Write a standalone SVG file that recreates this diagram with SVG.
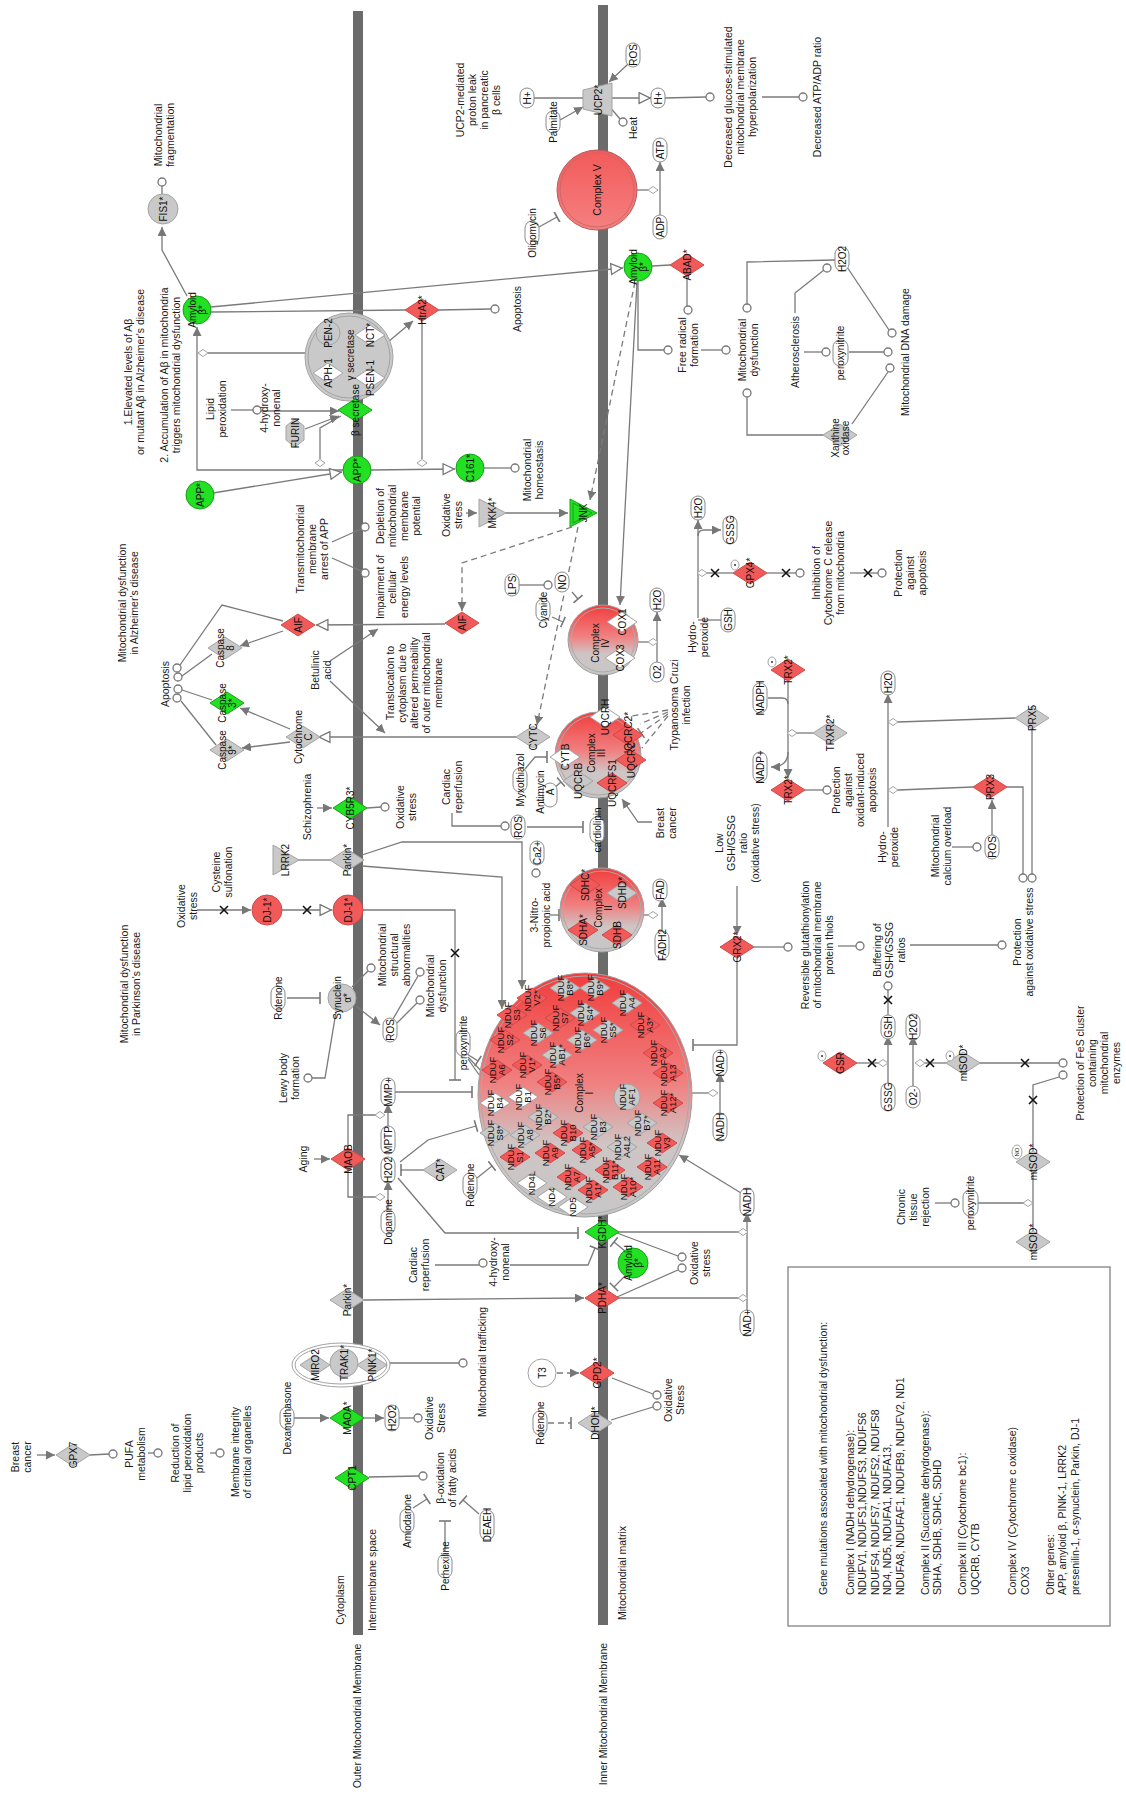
<svg xmlns="http://www.w3.org/2000/svg" width="1126" height="1798" viewBox="0 0 1126 1798">
<style>
.t{font-family:"Liberation Sans",Arial,sans-serif;font-size:10.5px;fill:#1a1a1a;text-anchor:middle}
.lg{font-family:"Liberation Sans",Arial,sans-serif;font-size:10.5px;fill:#1a1a1a;text-anchor:start}
.n{font-family:"Liberation Sans",Arial,sans-serif;font-size:10px;fill:#111;text-anchor:middle}
.s{font-family:"Liberation Sans",Arial,sans-serif;font-size:9.5px;fill:#111;text-anchor:middle}
.c{fill:none;stroke:#7a7a7a;stroke-width:1.3}
.d{stroke-dasharray:6 4}
.r{fill:#f25a5a;stroke:#d04848;stroke-width:1}
.g{fill:#c9c9c9;stroke:#a3a3a3;stroke-width:1}
.v{fill:#22e022;stroke:#1a9f1a;stroke-width:1}
.w{fill:#fff;stroke:#a3a3a3;stroke-width:1}
.o{fill:#fff;stroke:#777;stroke-width:1.3}
.ch{fill:#fff;stroke:#8a8a8a;stroke-width:1}
.x{stroke:#111;stroke-width:1.6;fill:none}
.mb{fill:#6b6b6b}
</style>
<defs>
<marker id="a" viewBox="0 0 10 10" refX="10" refY="5" markerWidth="9" markerHeight="9" markerUnits="userSpaceOnUse" orient="auto"><path d="M0,0L10,5L0,10Z" fill="#777"/></marker>
<marker id="oa" viewBox="0 0 12 12" refX="12" refY="6" markerWidth="13" markerHeight="13" markerUnits="userSpaceOnUse" orient="auto"><path d="M1,1L11,6L1,11Z" fill="#fff" stroke="#777" stroke-width="1.2"/></marker>
<marker id="ti" viewBox="-2 -6 4 12" refX="0" refY="0" markerWidth="4" markerHeight="12" markerUnits="userSpaceOnUse" orient="auto"><path d="M0,-6V6" stroke="#777" stroke-width="1.6"/></marker>
<path id="dm" d="M-17,0L0,-11L17,0L0,11Z"/>
<path id="dn" d="M-15,0L0,-10L15,0L0,10Z"/>
<path id="sd" d="M-5,0L0,-3.5L5,0L0,3.5Z"/>
<path id="xm" d="M-4,-4L4,4M4,-4L-4,4"/>
<path id="tr" d="M-13,-14L14,0L-13,14Z"/>
<linearGradient id="gc" x1="0" y1="0" x2="0" y2="1"><stop offset="0" stop-color="#f23c3c"/><stop offset="0.45" stop-color="#f08080"/><stop offset="0.7" stop-color="#cfc5c5"/><stop offset="1" stop-color="#c6c6c6"/></linearGradient>
<linearGradient id="g5" x1="0" y1="0" x2="0" y2="1"><stop offset="0" stop-color="#f25a5a"/><stop offset="1" stop-color="#f58080"/></linearGradient>
</defs>
<rect width="1126" height="1798" fill="#fff"/>
<g id="membranes">
<rect class="mb" x="353" y="11" width="10" height="1624"/>
<rect class="mb" x="598" y="5" width="10" height="1620"/>
</g>
<g id="region-labels">
<text class="t" transform="translate(357,1716) rotate(-90)" y="3.7">Outer Mitochondrial Membrane</text>
<text class="t" transform="translate(340,1600) rotate(-90)" y="3.7">Cytoplasm</text>
<text class="t" transform="translate(372,1580) rotate(-90)" y="3.7">Intermembrane space</text>
<text class="t" transform="translate(603,1714) rotate(-90)" y="3.7">Inner Mitochondrial Membrane</text>
<text class="t" transform="translate(622,1573) rotate(-90)" y="3.7">Mitochondrial matrix</text>
<text class="t" transform="translate(128,603) rotate(-90)"><tspan x="0" y="-2.3">Mitochondrial dysfunction</tspan><tspan x="0" y="9.7">in Alzheimer's disease</tspan></text>
<text class="t" transform="translate(130,984) rotate(-90)"><tspan x="0" y="-2.3">Mitochondrial dysfunction</tspan><tspan x="0" y="9.7">in Parkinson's disease</tspan></text>
<text class="t" transform="translate(134,372) rotate(-90)"><tspan x="0" y="-2.3">1.Elevated levels of Aβ</tspan><tspan x="0" y="9.7">or mutant Aβ in Alzheimer's disease</tspan></text>
<text class="t" transform="translate(170,375) rotate(-90)"><tspan x="0" y="-2.3">2. Accumulation of Aβ in mitochondria</tspan><tspan x="0" y="9.7">triggers mitochondrial dysfunction</tspan></text>
</g>
<g id="connectors" class="c">
<path d="M187,296L162,250L162,227" marker-end="url(#a)"/>
<path d="M162,194L162,186"/>
<path d="M211,307L623,268" marker-end="url(#oa)"/>
<path d="M211,312L405,310"/>
<path d="M439,310L491,309"/>
<path d="M388,342L413,321" marker-end="url(#a)"/>
<path d="M305,353L208,353"/>
<path d="M343,470L197,470L197,327" marker-end="url(#a)"/>
<path d="M341,416L320,428L320,459"/>
<path d="M231,410L253,410"/>
<path d="M261,411L339,411" marker-end="url(#a)"/>
<path d="M305,429L339,416" marker-end="url(#a)"/>
<path d="M213,493L342,472" marker-end="url(#oa)"/>
<path d="M371,470L455,469" marker-end="url(#oa)"/>
<path d="M422,321L422,459"/>
<path d="M484,468L511,468"/>
<path d="M332,542L361,529"/>
<path d="M332,558L361,571"/>
<path d="M445,624L316,625" marker-end="url(#oa)"/>
<path d="M283,631L240,646" marker-end="url(#a)"/>
<path d="M283,621L222,605L180,665"/>
<path d="M212,654L182,676"/>
<path d="M212,700L182,690"/>
<path d="M216,745L181,701"/>
<path d="M516,737L318,737" marker-end="url(#oa)"/>
<path d="M290,729L240,708" marker-end="url(#a)"/>
<path d="M290,742L242,748" marker-end="url(#a)"/>
<path d="M330,661L378,629" marker-end="url(#a)"/>
<path d="M330,681L385,733" marker-end="url(#a)"/>
<path class="d" d="M572,527L462,563L462,611" marker-end="url(#a)"/>
<path class="d" d="M578,527L537,725" marker-end="url(#a)"/>
<path class="d" d="M635,282L590,500" marker-end="url(#a)"/>
<path d="M637,282L620,605" marker-end="url(#a)"/>
<path d="M505,513L568,513" marker-end="url(#a)"/>
<path d="M466,513L477,513" marker-end="url(#a)"/>
<path d="M628,64L609,82" marker-end="url(#a)"/>
<path d="M533,98L583,98"/>
<path d="M560,120L583,107" marker-end="url(#a)"/>
<path d="M609,106L620,119"/>
<path d="M612,98L651,98" marker-end="url(#oa)"/>
<path d="M665,98L706,97"/>
<path d="M762,97L799,97"/>
<path d="M660,215L660,162" marker-end="url(#a)"/>
<path d="M637,190L648,190"/>
<path d="M539,227L557,217" marker-end="url(#ti)"/>
<path d="M652,266L670,265"/>
<path d="M687,276L687,306"/>
<path d="M638,281L638,350L664,350"/>
<path d="M701,350L722,350"/>
<path d="M835,260L747,262L747,304"/>
<path d="M823,435L747,435L747,397"/>
<path d="M795,313L795,293L824,270"/>
<path d="M804,352L822,352"/>
<path d="M849,352L884,352"/>
<path d="M847,267L889,330"/>
<path d="M852,424L888,372"/>
<path d="M519,585L544,585"/>
<path d="M572,592L578,599" marker-end="url(#ti)"/>
<path d="M552,617L563,622" marker-end="url(#ti)"/>
<path d="M638,642L648,642"/>
<path d="M657,664L657,612" marker-end="url(#a)"/>
<path d="M698,618L698,520" marker-end="url(#a)"/>
<path d="M698,536Q698,530 704,530L721,530" marker-end="url(#a)"/>
<path d="M721,620L698,620"/>
<path d="M707,573L733,573"/>
<path d="M767,573L796,573"/>
<path d="M850,573L878,573"/>
<path d="M788,681L788,778" marker-end="url(#a)"/>
<path d="M768,698L782,698Q788,698 788,704"/>
<path d="M788,752Q788,767 771,767" marker-end="url(#a)"/>
<path d="M813,733L797,733"/>
<path d="M805,790L823,790"/>
<path d="M888,827L888,694" marker-end="url(#a)"/>
<path d="M1015,718L898,722"/>
<path d="M973,787L898,790"/>
<path d="M992,836L992,800" marker-end="url(#a)"/>
<path d="M952,847L973,847"/>
<path d="M1007,787L1023,787L1023,874"/>
<path d="M1032,729L1032,874"/>
<path d="M737,886L737,935" marker-end="url(#a)"/>
<path d="M754,947L784,947"/>
<path d="M737,958L737,1045L693,1045" marker-end="url(#ti)"/>
<path d="M838,946L856,946"/>
<path d="M910,945L998,945"/>
<path d="M857,1063L878,1063"/>
<path d="M888,1089L888,1036" marker-end="url(#a)"/>
<path d="M888,1019L888,990"/>
<path d="M913,1089L913,1036" marker-end="url(#a)"/>
<path d="M946,1063L925,1063"/>
<path d="M980,1063L1059,1063"/>
<path d="M1033,1151L1033,1085L1059,1077"/>
<path d="M1033,1231L1033,1173"/>
<path d="M977,1203L1024,1203"/>
<path d="M935,1203L951,1203"/>
<path d="M197,910L251,910" marker-end="url(#a)"/>
<path d="M282,910L332,910" marker-end="url(#oa)"/>
<path d="M363,910L455,910L455,1080" marker-end="url(#ti)"/>
<path d="M298,860L330,860"/>
<path d="M362,855L402,842L522,842L522,989" marker-end="url(#a)"/>
<path d="M362,866L502,877L502,1009" marker-end="url(#a)"/>
<path d="M317,808L332,808" marker-end="url(#a)"/>
<path d="M367,808L381,807"/>
<path d="M452,813L452,826L501,826"/>
<path d="M527,827L583,827" marker-end="url(#ti)"/>
<path d="M525,769L535,757L547,757" marker-end="url(#ti)"/>
<path d="M553,789L561,782" marker-end="url(#ti)"/>
<path d="M652,822L638,822L622,799" marker-end="url(#a)"/>
<path class="d" d="M668,710L626,717"/>
<path class="d" d="M668,712L640,724"/>
<path class="d" d="M668,714L641,733" marker-end="url(#ti)"/>
<path class="d" d="M668,716L642,748"/>
<path d="M549,915L559,915" marker-end="url(#ti)"/>
<path d="M644,915L648,915"/>
<path d="M662,937L662,898" marker-end="url(#a)"/>
<path d="M287,998L320,998" marker-end="url(#ti)"/>
<path d="M312,1078L325,1078L336,1012"/>
<path d="M356,1006L380,1025" marker-end="url(#a)"/>
<path d="M352,987L368,971"/>
<path d="M393,1019L418,976"/>
<path d="M397,1023L417,1003"/>
<path d="M395,1092L472,1092" marker-end="url(#ti)"/>
<path d="M388,1132L388,1104" marker-end="url(#a)"/>
<path d="M388,1211L388,1181" marker-end="url(#a)"/>
<path d="M376,1115L348,1115L348,1197L376,1197"/>
<path d="M314,1159L330,1159" marker-end="url(#a)"/>
<path d="M400,1162L428,1140L476,1126" marker-end="url(#ti)"/>
<path d="M398,1178L445,1233L578,1233" marker-end="url(#ti)"/>
<path d="M425,1170L401,1170" marker-end="url(#ti)"/>
<path d="M477,1178L492,1166" marker-end="url(#ti)"/>
<path d="M467,1054L478,1061" marker-end="url(#ti)"/>
<path d="M468,1057L483,1073"/>
<path d="M468,1059L487,1086"/>
<path d="M435,1265L479,1265"/>
<path d="M510,1265L588,1265L595,1248" marker-end="url(#ti)"/>
<path d="M625,1251L614,1242" marker-end="url(#ti)"/>
<path d="M625,1276L614,1287" marker-end="url(#ti)"/>
<path d="M617,1233L678,1256"/>
<path d="M617,1297L678,1270"/>
<path d="M619,1232L738,1232"/>
<path d="M619,1298L738,1298"/>
<path d="M747,1316L747,1213" marker-end="url(#a)"/>
<path d="M741,1193L679,1155" marker-end="url(#a)"/>
<path d="M691,1093L708,1093"/>
<path d="M720,1117L720,1073" marker-end="url(#a)"/>
<path d="M364,1300L584,1298" marker-end="url(#a)"/>
<path d="M390,1363L459,1363"/>
<path d="M294,1418L329,1418" marker-end="url(#a)"/>
<path d="M364,1418L384,1418" marker-end="url(#a)"/>
<path d="M399,1418L414,1418"/>
<path d="M369,1477L419,1476"/>
<path d="M413,1508L427,1499" marker-end="url(#ti)"/>
<path d="M445,1551L445,1521" marker-end="url(#ti)"/>
<path d="M479,1514L463,1500" marker-end="url(#ti)"/>
<path d="M37,1455L55,1455" marker-end="url(#a)"/>
<path d="M90,1455L109,1454"/>
<path d="M148,1453L154,1453"/>
<path d="M210,1453L216,1453"/>
<path class="d" d="M557,1373L579,1373" marker-end="url(#a)"/>
<path d="M612,1378L653,1394"/>
<path d="M611,1420L653,1407"/>
<path class="d" d="M548,1423L571,1423" marker-end="url(#ti)"/>
<g class="o">
<circle cx="162" cy="182" r="4"/><circle cx="495" cy="309" r="4"/><circle cx="515" cy="468" r="4"/><circle cx="365" cy="527" r="4"/><circle cx="365" cy="573" r="4"/>
<circle cx="177" cy="668" r="4"/><circle cx="178" cy="677" r="4"/><circle cx="178" cy="689" r="4"/><circle cx="177" cy="698" r="4"/><circle cx="623" cy="122" r="4"/>
<circle cx="710" cy="97" r="4"/><circle cx="803" cy="97" r="4"/><circle cx="688" cy="310" r="4"/><circle cx="668" cy="350" r="4"/><circle cx="726" cy="350" r="4"/>
<circle cx="747" cy="308" r="4"/><circle cx="747" cy="393" r="4"/><circle cx="827" cy="268" r="4"/><circle cx="826" cy="352" r="4"/><circle cx="888" cy="352" r="4"/>
<circle cx="892" cy="333" r="4"/><circle cx="890" cy="368" r="4"/><circle cx="548" cy="585" r="4"/><circle cx="800" cy="573" r="4"/><circle cx="882" cy="573" r="4"/>
<circle cx="827" cy="790" r="4"/><circle cx="977" cy="847" r="4"/><circle cx="1023" cy="878" r="4"/><circle cx="1032" cy="878" r="4"/><circle cx="788" cy="947" r="4"/>
<circle cx="860" cy="946" r="4"/><circle cx="1002" cy="945" r="4"/><circle cx="888" cy="986" r="4"/><circle cx="1063" cy="1063" r="4"/><circle cx="1063" cy="1075" r="4"/>
<circle cx="955" cy="1203" r="4"/><circle cx="385" cy="807" r="4"/><circle cx="505" cy="826" r="4"/><circle cx="308" cy="1078" r="4"/><circle cx="371" cy="968" r="4"/>
<circle cx="420" cy="972" r="4"/><circle cx="420" cy="1000" r="4"/><circle cx="483" cy="1263" r="4"/><circle cx="682" cy="1257" r="4"/><circle cx="682" cy="1268" r="4"/>
<circle cx="463" cy="1363" r="4"/><circle cx="418" cy="1418" r="4"/><circle cx="423" cy="1476" r="4"/><circle cx="113" cy="1454" r="4"/><circle cx="158" cy="1453" r="4"/>
<circle cx="220" cy="1453" r="4"/><circle cx="657" cy="1395" r="4"/><circle cx="657" cy="1406" r="4"/><circle cx="257" cy="410" r="4"/><circle cx="536" cy="873" r="4"/>
</g>
<g class="w">
<use href="#sd" x="203" y="353"/><use href="#sd" x="320" y="463"/><use href="#sd" x="422" y="463"/><use href="#sd" x="653" y="190"/><use href="#sd" x="653" y="642"/>
<use href="#sd" x="702" y="573"/><use href="#sd" x="792" y="733"/><use href="#sd" x="893" y="722"/><use href="#sd" x="893" y="790"/><use href="#sd" x="883" y="1063"/>
<use href="#sd" x="920" y="1063"/><use href="#sd" x="1028" y="1203"/><use href="#sd" x="380" y="1115"/><use href="#sd" x="380" y="1197"/><use href="#sd" x="713" y="1093"/>
<use href="#sd" x="743" y="1232"/><use href="#sd" x="743" y="1298"/><use href="#sd" x="653" y="915"/>
</g>
<g class="x">
<use href="#xm" x="224" y="910"/><use href="#xm" x="307" y="910"/><use href="#xm" x="455" y="953"/><use href="#xm" x="786" y="573"/><use href="#xm" x="868" y="573"/>
<use href="#xm" x="715" y="573"/><use href="#xm" x="872" y="1063"/><use href="#xm" x="888" y="1000"/><use href="#xm" x="930" y="1063"/><use href="#xm" x="1025" y="1063"/><use href="#xm" x="1033" y="1100"/>
</g>
</g>
<g id="labels">
<text class="t" transform="translate(164,135) rotate(-90)"><tspan x="0" y="-2.3">Mitochondrial</tspan><tspan x="0" y="9.7">fragmentation</tspan></text>
<text class="t" transform="translate(216,409) rotate(-90)"><tspan x="0" y="-2.3">Lipid</tspan><tspan x="0" y="9.7">peroxidation</tspan></text>
<text class="t" transform="translate(270,408) rotate(-90)"><tspan x="0" y="-2.3">4-hydroxy-</tspan><tspan x="0" y="9.7">nonenal</tspan></text>
<text class="t" transform="translate(517,309) rotate(-90)" y="3.7">Apoptosis</text>
<text class="t" transform="translate(478,100) rotate(-90)"><tspan x="0" y="-14.3">UCP2-mediated</tspan><tspan x="0" y="-2.3">proton leak</tspan><tspan x="0" y="9.7">in pancreatic</tspan><tspan x="0" y="21.7">β cells</tspan></text>
<text class="t" transform="translate(633,128) rotate(-90)" y="3.7">Heat</text>
<text class="t" transform="translate(740,97) rotate(-90)"><tspan x="0" y="-8.3">Decreased glucose-stimulated</tspan><tspan x="0" y="3.7">mitochondrial membrane</tspan><tspan x="0" y="15.7">hyperpolarization</tspan></text>
<text class="t" transform="translate(817,97) rotate(-90)" y="3.7">Decreased ATP/ADP ratio</text>
<text class="t" transform="translate(688,345) rotate(-90)"><tspan x="0" y="-2.3">Free radical</tspan><tspan x="0" y="9.7">formation</tspan></text>
<text class="t" transform="translate(748,350) rotate(-90)"><tspan x="0" y="-2.3">Mitochondrial</tspan><tspan x="0" y="9.7">dysfunction</tspan></text>
<text class="t" transform="translate(795,352) rotate(-90)" y="3.7">Atherosclerosis</text>
<text class="t" transform="translate(905,352) rotate(-90)" y="3.7">Mitochondrial DNA damage</text>
<text class="t" transform="translate(533,470) rotate(-90)"><tspan x="0" y="-2.3">Mitochondrial</tspan><tspan x="0" y="9.7">homeostasis</tspan></text>
<text class="t" transform="translate(312,549) rotate(-90)"><tspan x="0" y="-8.3">Transmitochondrial</tspan><tspan x="0" y="3.7">membrane</tspan><tspan x="0" y="15.7">arrest of APP</tspan></text>
<text class="t" transform="translate(398,516) rotate(-90)"><tspan x="0" y="-14.3">Depletion of</tspan><tspan x="0" y="-2.3">mitochondrial</tspan><tspan x="0" y="9.7">membrane</tspan><tspan x="0" y="21.7">potential</tspan></text>
<text class="t" transform="translate(392,587) rotate(-90)"><tspan x="0" y="-8.3">Impairment of</tspan><tspan x="0" y="3.7">cellular</tspan><tspan x="0" y="15.7">energy levels</tspan></text>
<text class="t" transform="translate(414,683) rotate(-90)"><tspan x="0" y="-20.3">Translocation to</tspan><tspan x="0" y="-8.3">cytoplasm due to</tspan><tspan x="0" y="3.7">altered permeability</tspan><tspan x="0" y="15.7">of outer mitochondrial</tspan><tspan x="0" y="27.7">membrane</tspan></text>
<text class="t" transform="translate(165,684) rotate(-90)" y="3.7">Apoptosis</text>
<text class="t" transform="translate(321,670) rotate(-90)"><tspan x="0" y="-2.3">Betulinic</tspan><tspan x="0" y="9.7">acid</tspan></text>
<text class="t" transform="translate(452,515) rotate(-90)"><tspan x="0" y="-2.3">Oxidative</tspan><tspan x="0" y="9.7">stress</tspan></text>
<text class="t" transform="translate(307,807) rotate(-90)" y="3.7">Schizophrenia</text>
<text class="t" transform="translate(406,807) rotate(-90)"><tspan x="0" y="-2.3">Oxidative</tspan><tspan x="0" y="9.7">stress</tspan></text>
<text class="t" transform="translate(452,787) rotate(-90)"><tspan x="0" y="-2.3">Cardiac</tspan><tspan x="0" y="9.7">reperfusion</tspan></text>
<text class="t" transform="translate(666,823) rotate(-90)"><tspan x="0" y="-2.3">Breast</tspan><tspan x="0" y="9.7">cancer</tspan></text>
<text class="t" transform="translate(680,705) rotate(-90)"><tspan x="0" y="-2.3">Trypanosoma Cruzi</tspan><tspan x="0" y="9.7">infection</tspan></text>
<text class="t" transform="translate(698,637) rotate(-90)"><tspan x="0" y="-2.3">Hydro-</tspan><tspan x="0" y="9.7">peroxide</tspan></text>
<text class="t" transform="translate(828,573) rotate(-90)"><tspan x="0" y="-8.3">Inhibition of</tspan><tspan x="0" y="3.7">Cytochrome C release</tspan><tspan x="0" y="15.7">from mitochondria</tspan></text>
<text class="t" transform="translate(910,573) rotate(-90)"><tspan x="0" y="-8.3">Protection</tspan><tspan x="0" y="3.7">against</tspan><tspan x="0" y="15.7">apoptosis</tspan></text>
<text class="t" transform="translate(854,790) rotate(-90)"><tspan x="0" y="-14.3">Protection</tspan><tspan x="0" y="-2.3">against</tspan><tspan x="0" y="9.7">oxidant-induced</tspan><tspan x="0" y="21.7">apoptosis</tspan></text>
<text class="t" transform="translate(888,847) rotate(-90)"><tspan x="0" y="-2.3">Hydro-</tspan><tspan x="0" y="9.7">peroxide</tspan></text>
<text class="t" transform="translate(941,846) rotate(-90)"><tspan x="0" y="-2.3">Mitochondrial</tspan><tspan x="0" y="9.7">calcium overload</tspan></text>
<text class="t" transform="translate(737,843) rotate(-90)"><tspan x="0" y="-14.3">Low</tspan><tspan x="0" y="-2.3">GSH/GSSG</tspan><tspan x="0" y="9.7">ratio</tspan><tspan x="0" y="21.7">(oxidative stress)</tspan></text>
<text class="t" transform="translate(817,945) rotate(-90)"><tspan x="0" y="-8.3">Reversible glutathionylation</tspan><tspan x="0" y="3.7">of mitochondrial membrane</tspan><tspan x="0" y="15.7">protein thiols</tspan></text>
<text class="t" transform="translate(889,950) rotate(-90)"><tspan x="0" y="-8.3">Buffering of</tspan><tspan x="0" y="3.7">GSH/GSSG</tspan><tspan x="0" y="15.7">ratios</tspan></text>
<text class="t" transform="translate(1023,942) rotate(-90)"><tspan x="0" y="-2.3">Protection</tspan><tspan x="0" y="9.7">against oxidative stress</tspan></text>
<text class="t" transform="translate(1098,1063) rotate(-90)"><tspan x="0" y="-14.3">Protection of FeS cluster</tspan><tspan x="0" y="-2.3">containing</tspan><tspan x="0" y="9.7">mitochondrial</tspan><tspan x="0" y="21.7">enzymes</tspan></text>
<text class="t" transform="translate(913,1207) rotate(-90)"><tspan x="0" y="-8.3">Chronic</tspan><tspan x="0" y="3.7">tissue</tspan><tspan x="0" y="15.7">rejection</tspan></text>
<text class="t" transform="translate(187,906) rotate(-90)"><tspan x="0" y="-2.3">Oxidative</tspan><tspan x="0" y="9.7">stress</tspan></text>
<text class="t" transform="translate(222,872) rotate(-90)"><tspan x="0" y="-2.3">Cysteine</tspan><tspan x="0" y="9.7">sulfonation</tspan></text>
<text class="t" transform="translate(394,955) rotate(-90)"><tspan x="0" y="-8.3">Mitochondrial</tspan><tspan x="0" y="3.7">structural</tspan><tspan x="0" y="15.7">abnormalities</tspan></text>
<text class="t" transform="translate(436,986) rotate(-90)"><tspan x="0" y="-2.3">Mitochondrial</tspan><tspan x="0" y="9.7">dysfunction</tspan></text>
<text class="t" transform="translate(289,1078) rotate(-90)"><tspan x="0" y="-2.3">Lewy body</tspan><tspan x="0" y="9.7">formation</tspan></text>
<text class="t" transform="translate(303,1159) rotate(-90)" y="3.7">Aging</text>
<text class="t" transform="translate(540,915) rotate(-90)"><tspan x="0" y="-2.3">3-Nitro-</tspan><tspan x="0" y="9.7">propionic acid</tspan></text>
<text class="t" transform="translate(419,1265) rotate(-90)"><tspan x="0" y="-2.3">Cardiac</tspan><tspan x="0" y="9.7">reperfusion</tspan></text>
<text class="t" transform="translate(499,1262) rotate(-90)"><tspan x="0" y="-2.3">4-hydroxy-</tspan><tspan x="0" y="9.7">nonenal</tspan></text>
<text class="t" transform="translate(700,1263) rotate(-90)"><tspan x="0" y="-2.3">Oxidative</tspan><tspan x="0" y="9.7">stress</tspan></text>
<text class="t" transform="translate(482,1362) rotate(-90)" y="3.7">Mitochondrial trafficking</text>
<text class="t" transform="translate(435,1418) rotate(-90)"><tspan x="0" y="-2.3">Oxidative</tspan><tspan x="0" y="9.7">Stress</tspan></text>
<text class="t" transform="translate(446,1478) rotate(-90)"><tspan x="0" y="-2.3">β-oxidation</tspan><tspan x="0" y="9.7">of fatty acids</tspan></text>
<text class="t" transform="translate(674,1400) rotate(-90)"><tspan x="0" y="-2.3">Oxidative</tspan><tspan x="0" y="9.7">Stress</tspan></text>
<text class="t" transform="translate(21,1457) rotate(-90)"><tspan x="0" y="-2.3">Breast</tspan><tspan x="0" y="9.7">cancer</tspan></text>
<text class="t" transform="translate(135,1454) rotate(-90)"><tspan x="0" y="-2.3">PUFA</tspan><tspan x="0" y="9.7">metabolism</tspan></text>
<text class="t" transform="translate(187,1453) rotate(-90)"><tspan x="0" y="-8.3">Reduction of</tspan><tspan x="0" y="3.7">lipid peroxidation</tspan><tspan x="0" y="15.7">products</tspan></text>
<text class="t" transform="translate(241,1452) rotate(-90)"><tspan x="0" y="-2.3">Membrane integrity</tspan><tspan x="0" y="9.7">of critical organelles</tspan></text>
</g>
<g id="nodes">
<g id="FIS1"><circle class="g" cx="163" cy="209" r="15"/><text class="n" transform="translate(163,209) rotate(-90)" y="3.5">FIS1*</text></g>
<g id="AmyB-out"><circle class="v" cx="197" cy="310" r="14"/><text class="n" transform="translate(197,310) rotate(-90)"><tspan x="0" y="-1.5">Amyloid</tspan><tspan x="0" y="8.5">β*</tspan></text></g>
<g id="gamma-secretase"><circle class="g" cx="349" cy="357" r="44"/><circle cx="349" cy="357" r="41" fill="none" stroke="#a3a3a3"/>
<circle class="g" cx="328" cy="333" r="12"/><text class="n" transform="translate(328,333) rotate(-90)" y="3.5">PEN-2</text>
<use href="#dn" x="328" y="373" class="w"/><text class="n" transform="translate(328,373) rotate(-90)" y="3.5">APH-1</text>
<use href="#dn" x="370" y="335" class="w"/><text class="n" transform="translate(370,335) rotate(-90)" y="3.5">NCT*</text>
<use href="#dn" x="370" y="378" class="w"/><text class="n" transform="translate(370,378) rotate(-90)" y="3.5">PSEN-1</text>
<text class="n" transform="translate(350,355) rotate(-90)" y="3.5">γ secretase</text></g>
<g id="HtrA2"><use href="#dm" x="422" y="310" class="r"/><text class="n" transform="translate(422,310) rotate(-90)" y="3.5">HtrA2*</text></g>
<g id="b-secretase"><use href="#dm" x="355" y="410" class="v"/><text class="n" transform="translate(355,410) rotate(-90)" y="3.5">β secretase</text></g>
<g id="FURIN"><path class="g" transform="translate(295,433)" d="M0,-14L9,-7L9,7L0,14L-9,7L-9,-7Z"/><text class="n" transform="translate(295,433) rotate(-90)" y="3.5">FURIN</text></g>
<g id="APP-mem"><circle class="v" cx="357" cy="470" r="14"/><text class="n" transform="translate(357,470) rotate(-90)" y="3.5">APP*</text></g>
<g id="APP-out"><circle class="v" cx="200" cy="495" r="14"/><text class="n" transform="translate(200,495) rotate(-90)" y="3.5">APP*</text></g>
<g id="C161"><circle class="v" cx="470" cy="468" r="14"/><text class="n" transform="translate(470,468) rotate(-90)" y="3.5">C161*</text></g>
<g id="UCP2"><polygon class="g" points="583,90 612,83 612,116 583,109"/><text class="n" transform="translate(598,100) rotate(-90)" y="3.5">UCP2*</text></g>
<g id="ComplexV"><circle cx="597" cy="190" r="40" fill="url(#g5)" stroke="#b85c5c"/><circle cx="597" cy="190" r="37" fill="none" stroke="#c86a6a"/><text class="n" transform="translate(597,190) rotate(-90)" y="3.5" style="font-size:10.5px">Complex V</text></g>
<g id="AmyB-in"><circle class="v" cx="638" cy="267" r="14"/><text class="n" transform="translate(638,267) rotate(-90)"><tspan x="0" y="-1.5">Amyloid</tspan><tspan x="0" y="8.5">β*</tspan></text></g>
<g id="ABAD"><use href="#dm" x="687" y="265" class="r"/><text class="n" transform="translate(687,265) rotate(-90)" y="3.5">ABAD*</text></g>
<g id="XO"><use href="#dm" x="840" y="435" class="g"/><text class="n" transform="translate(840,438) rotate(-90)"><tspan x="0" y="-1.5">Xanthine</tspan><tspan x="0" y="8.5">oxidase</tspan></text></g>
<g id="MKK4"><use href="#tr" x="492" y="513" class="g"/><text class="n" transform="translate(492,513) rotate(-90)" y="3.5">MKK4*</text></g>
<g id="JNK"><use href="#tr" x="583" y="513" class="v"/><path transform="translate(583,513)" d="M-10,-10L9,0L-10,10Z" fill="none" stroke="#1a9f1a"/><text class="n" transform="translate(583,513) rotate(-90)" y="3.5">JNK</text></g>
<g id="AIF-out"><use href="#dm" x="298" y="625" class="r"/><text class="n" transform="translate(298,625) rotate(-90)" y="3.5">AIF</text></g>
<g id="AIF-in"><use href="#dm" x="462" y="623" class="r"/><text class="n" transform="translate(462,623) rotate(-90)" y="3.5">AIF</text></g>
<g id="Casp8"><use href="#dm" x="225" y="648" class="g"/><text class="n" transform="translate(225,648) rotate(-90)"><tspan x="0" y="-1.5">Caspase</tspan><tspan x="0" y="8.5">8</tspan></text></g>
<g id="Casp3"><use href="#dm" x="227" y="703" class="v"/><text class="n" transform="translate(227,703) rotate(-90)"><tspan x="0" y="-1.5">Caspase</tspan><tspan x="0" y="8.5">3*</tspan></text></g>
<g id="Casp9"><use href="#dm" x="227" y="750" class="g"/><text class="n" transform="translate(227,750) rotate(-90)"><tspan x="0" y="-1.5">Caspase</tspan><tspan x="0" y="8.5">9*</tspan></text></g>
<g id="CytC-out"><use href="#dm" x="303" y="737" class="g"/><text class="n" transform="translate(303,737) rotate(-90)"><tspan x="0" y="-1.5">Cytochrome</tspan><tspan x="0" y="8.5">C</tspan></text></g>
<g id="CYTC-in"><use href="#dm" x="533" y="737" class="g"/><text class="n" transform="translate(533,737) rotate(-90)" y="3.5">CYTC</text></g>
<g id="CYB5R3"><use href="#dm" x="350" y="808" class="v"/><text class="n" transform="translate(350,808) rotate(-90)" y="3.5">CYB5R3*</text></g>
<g id="LRRK2"><path class="g" transform="translate(285,860)" d="M-12,-15L14,0L-12,15Z"/><text class="n" transform="translate(285,860) rotate(-90)" y="3.5">LRRK2</text></g>
<g id="Parkin1"><use href="#dm" x="347" y="860" class="g"/><text class="n" transform="translate(347,860) rotate(-90)" y="3.5">Parkin*</text></g>
<g id="DJ1-out"><circle class="r" cx="267" cy="910" r="15"/><text class="n" transform="translate(267,910) rotate(-90)" y="3.5">DJ-1*</text></g>
<g id="DJ1-mem"><circle class="r" cx="348" cy="910" r="15"/><text class="n" transform="translate(348,910) rotate(-90)" y="3.5">DJ-1*</text></g>
<g id="Synuclein"><circle class="g" cx="342" cy="998" r="14"/><text class="n" transform="translate(342,998) rotate(-90)"><tspan x="0" y="-1.5">Synuclein</tspan><tspan x="0" y="8.5">α*</tspan></text></g>
<g id="MAOB"><use href="#dm" x="348" y="1159" class="r"/><text class="n" transform="translate(348,1159) rotate(-90)" y="3.5">MAOB</text></g>
<g id="CAT"><use href="#dm" x="440" y="1170" class="g"/><text class="n" transform="translate(440,1170) rotate(-90)" y="3.5">CAT*</text></g>
<g id="Parkin2"><use href="#dm" x="347" y="1300" class="g"/><text class="n" transform="translate(347,1300) rotate(-90)" y="3.5">Parkin*</text></g>
<g id="KGDH"><use href="#dm" x="602" y="1232" class="v"/><text class="n" transform="translate(602,1232) rotate(-90)" y="3.5">KGDH*</text></g>
<g id="AmyB-in2"><circle class="v" cx="633" cy="1263" r="15"/><text class="n" transform="translate(633,1263) rotate(-90)"><tspan x="0" y="-1.5">Amyloid</tspan><tspan x="0" y="8.5">β*</tspan></text></g>
<g id="PDHA"><use href="#dm" x="602" y="1298" class="r"/><text class="n" transform="translate(602,1298) rotate(-90)" y="3.5">PDHA*</text></g>
<g id="MIRO-complex"><ellipse cx="341" cy="1365" rx="49" ry="22" fill="#fff" stroke="#a3a3a3"/><ellipse cx="341" cy="1365" rx="46" ry="19" fill="none" stroke="#a3a3a3"/>
<use href="#dn" x="315" y="1365" class="g"/><text class="n" transform="translate(315,1365) rotate(-90)" y="3.5">MIRO2</text>
<circle class="g" cx="344" cy="1363" r="14"/><text class="n" transform="translate(344,1363) rotate(-90)" y="3.5">TRAK1*</text>
<use href="#dn" x="372" y="1365" class="g"/><text class="n" transform="translate(372,1365) rotate(-90)" y="3.5">PINK1*</text></g>
<g id="MAOA"><use href="#dm" x="347" y="1418" class="v"/><text class="n" transform="translate(347,1418) rotate(-90)" y="3.5">MAOA*</text></g>
<g id="CPT1"><use href="#dm" x="352" y="1478" class="v"/><text class="n" transform="translate(352,1478) rotate(-90)" y="3.5">CPT1</text></g>
<g id="GPX7"><use href="#dm" x="73" y="1455" class="g"/><text class="n" transform="translate(73,1455) rotate(-90)" y="3.5">GPX7</text></g>
<g id="GPD2"><use href="#dm" x="597" y="1373" class="r"/><text class="n" transform="translate(597,1373) rotate(-90)" y="3.5">GPD2*</text></g>
<g id="DHOH"><use href="#dm" x="595" y="1423" class="g"/><text class="n" transform="translate(595,1423) rotate(-90)" y="3.5">DHOH*</text></g>
<g id="T3"><circle class="w" cx="542" cy="1373" r="14"/><text class="n" transform="translate(542,1373) rotate(-90)" y="3.5">T3</text></g>
<g id="GPX4"><use href="#dm" x="750" y="573" class="r"/><text class="n" transform="translate(750,573) rotate(-90)" y="3.5">GPX4*</text><ellipse class="w" cx="735" cy="565" rx="4" ry="5"/><circle cx="735" cy="565" r="1" fill="#333"/></g>
<g id="TRX2a"><use href="#dm" x="788" y="670" class="r"/><text class="n" transform="translate(788,670) rotate(-90)" y="3.5">TRX2*</text><ellipse class="w" cx="772" cy="662" rx="4" ry="5"/><circle cx="772" cy="662" r="1" fill="#333"/></g>
<g id="TRXR2"><use href="#dm" x="830" y="733" class="g"/><text class="n" transform="translate(830,733) rotate(-90)" y="3.5">TRXR2*</text></g>
<g id="TRX2b"><use href="#dm" x="788" y="790" class="r"/><text class="n" transform="translate(788,790) rotate(-90)" y="3.5">TRX2*</text></g>
<g id="PRX3"><use href="#dm" x="990" y="787" class="r"/><text class="n" transform="translate(990,787) rotate(-90)" y="3.5">PRX3</text></g>
<g id="PRX5"><use href="#dm" x="1032" y="718" class="g"/><text class="n" transform="translate(1032,718) rotate(-90)" y="3.5">PRX5</text></g>
<g id="GRX2"><use href="#dm" x="737" y="947" class="r"/><text class="n" transform="translate(737,947) rotate(-90)" y="3.5">GRX2*</text></g>
<g id="GSR"><use href="#dm" x="840" y="1063" class="r"/><text class="n" transform="translate(840,1063) rotate(-90)" y="3.5">GSR</text><ellipse class="w" cx="822" cy="1056" rx="4" ry="5"/><circle cx="822" cy="1056" r="1" fill="#333"/></g>
<g id="mtSOD1"><use href="#dm" x="963" y="1063" class="g"/><text class="n" transform="translate(963,1063) rotate(-90)" y="3.5">mtSOD*</text><ellipse class="w" cx="950" cy="1056" rx="4" ry="5"/><circle cx="950" cy="1056" r="1" fill="#333"/></g>
<g id="mtSOD2"><use href="#dm" x="1033" y="1162" class="g"/><text class="n" transform="translate(1033,1162) rotate(-90)" y="3.5">mtSOD*</text><ellipse class="w" cx="1017" cy="1152" rx="5" ry="7"/><text class="s" transform="translate(1017,1152) rotate(-90)" y="2" style="font-size:6px">NO</text></g>
<g id="mtSOD3"><use href="#dm" x="1033" y="1242" class="g"/><text class="n" transform="translate(1033,1242) rotate(-90)" y="3.5">mtSOD*</text></g>
<g id="ComplexIV"><circle cx="603" cy="640" r="35" fill="url(#gc)" stroke="#a0a0a0"/><circle cx="603" cy="640" r="32" fill="none" stroke="#aaa"/>
<use href="#dn" x="622" y="622" class="w"/><text class="n" transform="translate(622,622) rotate(-90)" y="3.5">COX1</text>
<use href="#dn" x="620" y="658" class="w"/><text class="n" transform="translate(620,658) rotate(-90)" y="3.5">COX3</text>
<text class="n" transform="translate(600,643) rotate(-90)"><tspan x="0" y="-1.5">Complex</tspan><tspan x="0" y="8.5">IV</tspan></text></g>
<g id="ComplexIII"><circle cx="598" cy="755" r="43" fill="url(#gc)" stroke="#a0a0a0"/><circle cx="598" cy="755" r="40" fill="none" stroke="#aaa"/>
<use href="#dn" x="605" y="717" class="w"/><text class="n" transform="translate(605,717) rotate(-90)" y="3.5">UQCRH</text>
<use href="#dn" x="628" y="735" class="r"/><text class="n" transform="translate(628,735) rotate(-90)" y="3.5">UQCRC2*</text>
<use href="#dn" x="565" y="757" class="w"/><text class="n" transform="translate(565,757) rotate(-90)" y="3.5">CYTB</text>
<use href="#dn" x="631" y="760" class="r"/><text class="n" transform="translate(631,760) rotate(-90)" y="3.5">UQCRC</text>
<use href="#dn" x="578" y="781" class="g"/><text class="n" transform="translate(578,781) rotate(-90)" y="3.5">UQCRB</text>
<use href="#dn" x="612" y="783" class="r"/><text class="n" transform="translate(612,783) rotate(-90)" y="3.5">UQCRFS1</text>
<text class="n" transform="translate(596,753) rotate(-90)"><tspan x="0" y="-1.5">Complex</tspan><tspan x="0" y="8.5">III</tspan></text></g>
<g id="ComplexII"><circle cx="602" cy="910" r="42" fill="url(#gc)" stroke="#a0a0a0"/><circle cx="602" cy="910" r="39" fill="none" stroke="#aaa"/>
<use href="#dn" x="585" y="885" class="r"/><text class="n" transform="translate(585,885) rotate(-90)" y="3.5">SDHC*</text>
<use href="#dn" x="622" y="893" class="g"/><text class="n" transform="translate(622,893) rotate(-90)" y="3.5">SDHD*</text>
<use href="#dn" x="583" y="930" class="r"/><text class="n" transform="translate(583,930) rotate(-90)" y="3.5">SDHA*</text>
<use href="#dn" x="617" y="935" class="r"/><text class="n" transform="translate(617,935) rotate(-90)" y="3.5">SDHB</text>
<text class="n" transform="translate(603,908) rotate(-90)"><tspan x="0" y="-1.5">Complex</tspan><tspan x="0" y="8.5">II</tspan></text></g>
<g id="ComplexI"><ellipse cx="585" cy="1095" rx="107" ry="122" fill="url(#gc)" stroke="#a0a0a0"/><ellipse cx="585" cy="1095" rx="104" ry="119" fill="none" stroke="#aaa"/>
<g class="r"><use href="#dn" x="512" y="1015"/><use href="#dn" x="532" y="998"/><use href="#dn" x="505" y="1040"/><use href="#dn" x="560" y="1018"/><use href="#dn" x="645" y="1025"/><use href="#dn" x="497" y="1070"/><use href="#dn" x="527" y="1065"/><use href="#dn" x="552" y="1082"/><use href="#dn" x="658" y="1053"/><use href="#dn" x="668" y="1073"/><use href="#dn" x="668" y="1103"/><use href="#dn" x="568" y="1133"/><use href="#dn" x="662" y="1143"/><use href="#dn" x="515" y="1157"/><use href="#dn" x="550" y="1153"/><use href="#dn" x="587" y="1150"/><use href="#dn" x="652" y="1167"/><use href="#dn" x="572" y="1177"/><use href="#dn" x="610" y="1170"/><use href="#dn" x="628" y="1187"/><use href="#dn" x="593" y="1190"/></g>
<g class="g"><use href="#dn" x="565" y="988"/><use href="#dn" x="595" y="988"/><use href="#dn" x="538" y="1033"/><use href="#dn" x="585" y="1013"/><use href="#dn" x="627" y="1003"/><use href="#dn" x="557" y="1055"/><use href="#dn" x="582" y="1040"/><use href="#dn" x="608" y="1030"/><use href="#dn" x="495" y="1133"/><use href="#dn" x="543" y="1117"/><use href="#dn" x="525" y="1135"/><use href="#dn" x="598" y="1127"/><use href="#dn" x="642" y="1123"/><use href="#dn" x="622" y="1147"/><circle cx="627" cy="1097" r="13"/></g>
<g class="w"><use href="#dn" x="495" y="1103"/><use href="#dn" x="523" y="1097"/><use href="#dn" x="532" y="1183"/><use href="#dn" x="552" y="1197"/><use href="#dn" x="573" y="1207"/></g>
<text class="s" transform="translate(512,1015) rotate(-90)"><tspan x="0" y="-1.4">NDUF</tspan><tspan x="0" y="7.8">S3</tspan></text>
<text class="s" transform="translate(532,998) rotate(-90)"><tspan x="0" y="-1.4">NDUF</tspan><tspan x="0" y="7.8">V2*</tspan></text>
<text class="s" transform="translate(565,988) rotate(-90)"><tspan x="0" y="-1.4">NDUF</tspan><tspan x="0" y="7.8">B8*</tspan></text>
<text class="s" transform="translate(595,988) rotate(-90)"><tspan x="0" y="-1.4">NDUF</tspan><tspan x="0" y="7.8">B9*</tspan></text>
<text class="s" transform="translate(505,1040) rotate(-90)"><tspan x="0" y="-1.4">NDUF</tspan><tspan x="0" y="7.8">S2</tspan></text>
<text class="s" transform="translate(538,1033) rotate(-90)"><tspan x="0" y="-1.4">NDUF</tspan><tspan x="0" y="7.8">S6</tspan></text>
<text class="s" transform="translate(560,1018) rotate(-90)"><tspan x="0" y="-1.4">NDUF</tspan><tspan x="0" y="7.8">S7</tspan></text>
<text class="s" transform="translate(585,1013) rotate(-90)"><tspan x="0" y="-1.4">NDUF</tspan><tspan x="0" y="7.8">S4*</tspan></text>
<text class="s" transform="translate(627,1003) rotate(-90)"><tspan x="0" y="-1.4">NDUF</tspan><tspan x="0" y="7.8">A4</tspan></text>
<text class="s" transform="translate(497,1070) rotate(-90)"><tspan x="0" y="-1.4">NDUF</tspan><tspan x="0" y="7.8">A6</tspan></text>
<text class="s" transform="translate(527,1065) rotate(-90)"><tspan x="0" y="-1.4">NDUF</tspan><tspan x="0" y="7.8">V1*</tspan></text>
<text class="s" transform="translate(557,1055) rotate(-90)"><tspan x="0" y="-1.4">NDUF</tspan><tspan x="0" y="7.8">AB1*</tspan></text>
<text class="s" transform="translate(582,1040) rotate(-90)"><tspan x="0" y="-1.4">NDUF</tspan><tspan x="0" y="7.8">B6*</tspan></text>
<text class="s" transform="translate(608,1030) rotate(-90)"><tspan x="0" y="-1.4">NDUF</tspan><tspan x="0" y="7.8">S5*</tspan></text>
<text class="s" transform="translate(645,1025) rotate(-90)"><tspan x="0" y="-1.4">NDUF</tspan><tspan x="0" y="7.8">A3*</tspan></text>
<text class="s" transform="translate(495,1103) rotate(-90)"><tspan x="0" y="-1.4">NDUF</tspan><tspan x="0" y="7.8">B4</tspan></text>
<text class="s" transform="translate(523,1097) rotate(-90)"><tspan x="0" y="-1.4">NDUF</tspan><tspan x="0" y="7.8">B1</tspan></text>
<text class="s" transform="translate(552,1082) rotate(-90)"><tspan x="0" y="-1.4">NDUF</tspan><tspan x="0" y="7.8">B5*</tspan></text>
<text class="n" transform="translate(584,1093) rotate(-90)"><tspan x="0" y="-1.5">Complex</tspan><tspan x="0" y="8.5">I</tspan></text>
<text class="s" transform="translate(658,1053) rotate(-90)"><tspan x="0" y="-1.4">NDUF</tspan><tspan x="0" y="7.8">A2</tspan></text>
<text class="s" transform="translate(668,1073) rotate(-90)"><tspan x="0" y="-1.4">NDUF</tspan><tspan x="0" y="7.8">A13</tspan></text>
<text class="s" transform="translate(627,1097) rotate(-90)"><tspan x="0" y="-1.4">NDUF</tspan><tspan x="0" y="7.8">AF1</tspan></text>
<text class="s" transform="translate(668,1103) rotate(-90)"><tspan x="0" y="-1.4">NDUF</tspan><tspan x="0" y="7.8">A12*</tspan></text>
<text class="s" transform="translate(495,1133) rotate(-90)"><tspan x="0" y="-1.4">NDUF</tspan><tspan x="0" y="7.8">S8*</tspan></text>
<text class="s" transform="translate(543,1117) rotate(-90)"><tspan x="0" y="-1.4">NDUF</tspan><tspan x="0" y="7.8">B2*</tspan></text>
<text class="s" transform="translate(525,1135) rotate(-90)"><tspan x="0" y="-1.4">NDUF</tspan><tspan x="0" y="7.8">A8</tspan></text>
<text class="s" transform="translate(568,1133) rotate(-90)"><tspan x="0" y="-1.4">NDUF</tspan><tspan x="0" y="7.8">B10</tspan></text>
<text class="s" transform="translate(598,1127) rotate(-90)"><tspan x="0" y="-1.4">NDUF</tspan><tspan x="0" y="7.8">B3</tspan></text>
<text class="s" transform="translate(642,1123) rotate(-90)"><tspan x="0" y="-1.4">NDUF</tspan><tspan x="0" y="7.8">B7*</tspan></text>
<text class="s" transform="translate(662,1143) rotate(-90)"><tspan x="0" y="-1.4">NDUF</tspan><tspan x="0" y="7.8">V3</tspan></text>
<text class="s" transform="translate(515,1157) rotate(-90)"><tspan x="0" y="-1.4">NDUF</tspan><tspan x="0" y="7.8">S1</tspan></text>
<text class="s" transform="translate(550,1153) rotate(-90)"><tspan x="0" y="-1.4">NDUF</tspan><tspan x="0" y="7.8">A9</tspan></text>
<text class="s" transform="translate(587,1150) rotate(-90)"><tspan x="0" y="-1.4">NDUF</tspan><tspan x="0" y="7.8">A5*</tspan></text>
<text class="s" transform="translate(622,1147) rotate(-90)"><tspan x="0" y="-1.4">NDUF</tspan><tspan x="0" y="7.8">A4L2</tspan></text>
<text class="s" transform="translate(652,1167) rotate(-90)"><tspan x="0" y="-1.4">NDUF</tspan><tspan x="0" y="7.8">A11</tspan></text>
<text class="s" transform="translate(532,1183) rotate(-90)" y="3.3">ND4L</text>
<text class="s" transform="translate(572,1177) rotate(-90)"><tspan x="0" y="-1.4">NDUF</tspan><tspan x="0" y="7.8">A7</tspan></text>
<text class="s" transform="translate(610,1170) rotate(-90)"><tspan x="0" y="-1.4">NDUF</tspan><tspan x="0" y="7.8">B11*</tspan></text>
<text class="s" transform="translate(628,1187) rotate(-90)"><tspan x="0" y="-1.4">NDUF</tspan><tspan x="0" y="7.8">A10*</tspan></text>
<text class="s" transform="translate(552,1197) rotate(-90)" y="3.3">ND4</text>
<text class="s" transform="translate(593,1190) rotate(-90)"><tspan x="0" y="-1.4">NDUF</tspan><tspan x="0" y="7.8">A1*</tspan></text>
<text class="s" transform="translate(573,1207) rotate(-90)" y="3.3">ND5</text>
</g>
<g id="chemicals">
<rect class="ch" x="520" y="88" width="14" height="20" rx="7"/><text class="n" transform="translate(527,98) rotate(-90)" y="3.5">H+</text>
<rect class="ch" x="651" y="88" width="14" height="20" rx="7"/><text class="n" transform="translate(658,98) rotate(-90)" y="3.5">H+</text>
<rect class="ch" x="626" y="43" width="14" height="24" rx="7"/><text class="n" transform="translate(633,55) rotate(-90)" y="3.5">ROS</text>
<rect class="ch" x="546" y="111" width="14" height="22" rx="7"/><text class="n" transform="translate(553,122) rotate(-90)" y="3.5">Palmitate</text>
<rect class="ch" x="653" y="138" width="14" height="24" rx="7"/><text class="n" transform="translate(660,150) rotate(-90)" y="3.5">ATP</text>
<rect class="ch" x="653" y="215" width="14" height="24" rx="7"/><text class="n" transform="translate(660,227) rotate(-90)" y="3.5">ADP</text>
<rect class="ch" x="525" y="221" width="14" height="24" rx="7"/><text class="n" transform="translate(532,233) rotate(-90)" y="3.5">Oligomycin</text>
<rect class="ch" x="835" y="247" width="14" height="24" rx="7"/><text class="n" transform="translate(842,259) rotate(-90)" y="3.5">H2O2</text>
<rect class="ch" x="833" y="340" width="15" height="26" rx="7"/><text class="n" transform="translate(840,353) rotate(-90)" y="3.5">peroxynitrite</text>
<rect class="ch" x="505" y="574" width="14" height="22" rx="7"/><text class="n" transform="translate(512,585) rotate(-90)" y="3.5">LPS</text>
<rect class="ch" x="536" y="599" width="14" height="22" rx="7"/><text class="n" transform="translate(543,610) rotate(-90)" y="3.5">Cyanide</text>
<rect class="ch" x="555" y="572" width="14" height="20" rx="7"/><text class="n" transform="translate(562,582) rotate(-90)" y="3.5">NO</text>
<rect class="ch" x="650" y="588" width="14" height="24" rx="7"/><text class="n" transform="translate(657,600) rotate(-90)" y="3.5">H2O</text>
<rect class="ch" x="650" y="662" width="14" height="20" rx="7"/><text class="n" transform="translate(657,672) rotate(-90)" y="3.5">O2</text>
<rect class="ch" x="691" y="496" width="14" height="24" rx="7"/><text class="n" transform="translate(698,508) rotate(-90)" y="3.5">H2O</text>
<rect class="ch" x="723" y="516" width="14" height="28" rx="7"/><text class="n" transform="translate(730,530) rotate(-90)" y="3.5">GSSG</text>
<rect class="ch" x="721" y="608" width="14" height="24" rx="7"/><text class="n" transform="translate(728,620) rotate(-90)" y="3.5">GSH</text>
<rect class="ch" x="753" y="683" width="14" height="30" rx="7"/><text class="n" transform="translate(760,698) rotate(-90)" y="3.5">NADPH</text>
<rect class="ch" x="753" y="752" width="14" height="30" rx="7"/><text class="n" transform="translate(760,767) rotate(-90)" y="3.5">NADP+</text>
<rect class="ch" x="881" y="671" width="14" height="24" rx="7"/><text class="n" transform="translate(888,683) rotate(-90)" y="3.5">H2O</text>
<rect class="ch" x="985" y="835" width="14" height="24" rx="7"/><text class="n" transform="translate(992,847) rotate(-90)" y="3.5">ROS</text>
<rect class="ch" x="513" y="768" width="14" height="24" rx="7"/><text class="n" transform="translate(520,780) rotate(-90)" y="3.5">Myxothiazol</text>
<rect class="ch" x="543" y="783" width="14" height="24" rx="7"/><text class="n" transform="translate(545,792) rotate(-90)"><tspan x="0" y="-1.5">Antimycin</tspan><tspan x="0" y="8.5">A</tspan></text>
<rect class="ch" x="511" y="815" width="14" height="24" rx="7"/><text class="n" transform="translate(518,827) rotate(-90)" y="3.5">ROS</text>
<rect class="ch" x="590" y="817" width="14" height="26" rx="7"/><text class="n" transform="translate(597,830) rotate(-90)" y="3.5">cardiolipin</text>
<rect class="ch" x="530" y="841" width="14" height="24" rx="7"/><text class="n" transform="translate(537,853) rotate(-90)" y="3.5">Ca2+</text>
<rect class="ch" x="653" y="879" width="14" height="22" rx="7"/><text class="n" transform="translate(660,890) rotate(-90)" y="3.5">FAD</text>
<rect class="ch" x="655" y="931" width="14" height="28" rx="7"/><text class="n" transform="translate(662,945) rotate(-90)" y="3.5">FADH2</text>
<rect class="ch" x="271" y="986" width="14" height="24" rx="7"/><text class="n" transform="translate(278,998) rotate(-90)" y="3.5">Rotenone</text>
<rect class="ch" x="383" y="1018" width="14" height="24" rx="7"/><text class="n" transform="translate(390,1030) rotate(-90)" y="3.5">ROS</text>
<rect class="ch" x="456" y="1030" width="14" height="26" rx="7"/><text class="n" transform="translate(463,1043) rotate(-90)" y="3.5">peroxynitrite</text>
<rect class="ch" x="381" y="1078" width="14" height="28" rx="7"/><text class="n" transform="translate(388,1092) rotate(-90)" y="3.5">MMP+</text>
<rect class="ch" x="381" y="1126" width="14" height="28" rx="7"/><text class="n" transform="translate(388,1140) rotate(-90)" y="3.5">MPTP</text>
<rect class="ch" x="381" y="1157" width="14" height="26" rx="7"/><text class="n" transform="translate(388,1170) rotate(-90)" y="3.5">H2O2</text>
<rect class="ch" x="381" y="1210" width="14" height="24" rx="7"/><text class="n" transform="translate(388,1222) rotate(-90)" y="3.5">Dopamine</text>
<rect class="ch" x="463" y="1173" width="14" height="24" rx="7"/><text class="n" transform="translate(470,1185) rotate(-90)" y="3.5">Rotenone</text>
<rect class="ch" x="713" y="1050" width="14" height="26" rx="7"/><text class="n" transform="translate(720,1063) rotate(-90)" y="3.5">NAD+</text>
<rect class="ch" x="713" y="1113" width="14" height="28" rx="7"/><text class="n" transform="translate(720,1127) rotate(-90)" y="3.5">NADH</text>
<rect class="ch" x="740" y="1188" width="14" height="28" rx="7"/><text class="n" transform="translate(747,1202) rotate(-90)" y="3.5">NADH</text>
<rect class="ch" x="740" y="1310" width="14" height="26" rx="7"/><text class="n" transform="translate(747,1323) rotate(-90)" y="3.5">NAD+</text>
<rect class="ch" x="881" y="1015" width="14" height="24" rx="7"/><text class="n" transform="translate(888,1027) rotate(-90)" y="3.5">GSH</text>
<rect class="ch" x="881" y="1083" width="14" height="28" rx="7"/><text class="n" transform="translate(888,1097) rotate(-90)" y="3.5">GSSG</text>
<rect class="ch" x="906" y="1014" width="14" height="26" rx="7"/><text class="n" transform="translate(913,1027) rotate(-90)" y="3.5">H2O2</text>
<rect class="ch" x="906" y="1086" width="14" height="22" rx="7"/><text class="n" transform="translate(913,1097) rotate(-90)" y="3.5">O2-</text>
<rect class="ch" x="963" y="1190" width="15" height="26" rx="7"/><text class="n" transform="translate(970,1203) rotate(-90)" y="3.5">peroxynitrite</text>
<rect class="ch" x="280" y="1407" width="14" height="22" rx="7"/><text class="n" transform="translate(287,1418) rotate(-90)" y="3.5">Dexamethasone</text>
<rect class="ch" x="385" y="1405" width="14" height="26" rx="7"/><text class="n" transform="translate(392,1418) rotate(-90)" y="3.5">H2O2</text>
<rect class="ch" x="400" y="1509" width="14" height="24" rx="7"/><text class="n" transform="translate(407,1521) rotate(-90)" y="3.5">Amiodarone</text>
<rect class="ch" x="438" y="1554" width="14" height="24" rx="7"/><text class="n" transform="translate(445,1566) rotate(-90)" y="3.5">Perhexiline</text>
<rect class="ch" x="480" y="1510" width="14" height="30" rx="7"/><text class="n" transform="translate(487,1525) rotate(-90)" y="3.5">DEAEH</text>
<rect class="ch" x="533" y="1411" width="14" height="24" rx="7"/><text class="n" transform="translate(540,1423) rotate(-90)" y="3.5">Rotenone</text>
</g>
</g>
<g id="legend">
<rect x="788" y="1267" width="322" height="359" fill="none" stroke="#777" stroke-width="1.2"/>
<text class="lg" transform="translate(826.5,1595) rotate(-90)">Gene mutations associated with mitochondrial dysfunction:</text>
<text class="lg" transform="translate(853.5,1595) rotate(-90)">Complex I (NADH dehydrogenase):</text>
<text class="lg" transform="translate(866,1595) rotate(-90)">NDUFV1, NDUFS1,NDUFS3, NDUFS6</text>
<text class="lg" transform="translate(878.5,1595) rotate(-90)">NDUFS4, NDUFS7, NDUFS2, NDUFS8</text>
<text class="lg" transform="translate(891,1595) rotate(-90)">ND4, ND5, NDUFA1, NDUFA13,</text>
<text class="lg" transform="translate(903.5,1595) rotate(-90)">NDUFA8, NDUFAF1, NDUFB9,  NDUFV2, ND1</text>
<text class="lg" transform="translate(928.5,1595) rotate(-90)">Complex II (Succinate dehydrogenase):</text>
<text class="lg" transform="translate(941,1595) rotate(-90)">SDHA, SDHB, SDHC, SDHD</text>
<text class="lg" transform="translate(966,1595) rotate(-90)">Complex III (Cytochrome bc1):</text>
<text class="lg" transform="translate(978.5,1595) rotate(-90)">UQCRB, CYTB</text>
<text class="lg" transform="translate(1016,1595) rotate(-90)">Complex IV (Cytochrome c oxidase)</text>
<text class="lg" transform="translate(1028.5,1595) rotate(-90)">COX3</text>
<text class="lg" transform="translate(1053.5,1595) rotate(-90)">Other genes:</text>
<text class="lg" transform="translate(1066,1595) rotate(-90)">APP, amyloid β, PINK-1, LRRK2</text>
<text class="lg" transform="translate(1078.5,1595) rotate(-90)">presenilin-1, α-synuclein, Parkin, DJ-1</text>
</g>
</svg>
